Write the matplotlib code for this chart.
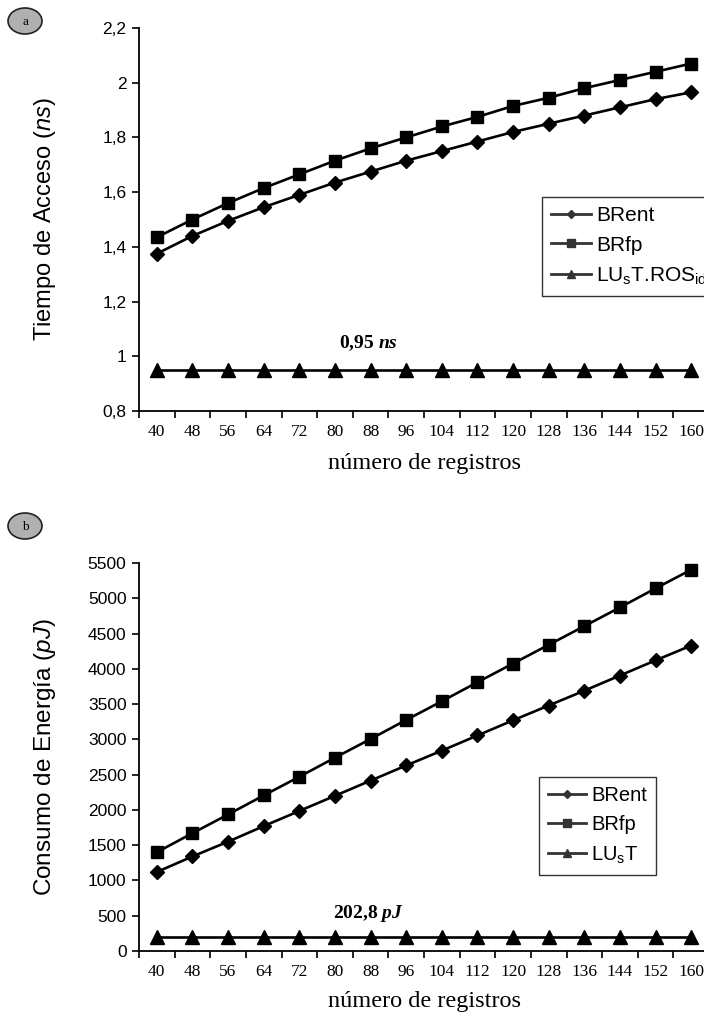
import matplotlib
matplotlib.use("Agg")
import matplotlib.pyplot as plt
from matplotlib.patches import Ellipse
from matplotlib.lines import Line2D
from matplotlib.ticker import FixedLocator

# data
registros = [40, 48, 56, 64, 72, 80, 88, 96, 104, 112, 120, 128, 136, 144, 152, 160]

# (a) access time, ns
t_brent = [1.375, 1.44, 1.495, 1.545, 1.59, 1.635, 1.675, 1.715, 1.75, 1.785, 1.82, 1.85, 1.88, 1.91, 1.94, 1.965]
t_brfp = [1.435, 1.50, 1.56, 1.615, 1.665, 1.715, 1.76, 1.80, 1.84, 1.875, 1.915, 1.945, 1.98, 2.01, 2.04, 2.07]
t_lust = [0.95] * 16

# (b) energy, pJ
e_brent = [1120, 1340, 1550, 1770, 1985, 2200, 2415, 2630, 2840, 3055, 3270, 3480, 3690, 3905, 4120, 4330]
e_brfp = [1400, 1670, 1935, 2205, 2470, 2740, 3005, 3275, 3540, 3810, 4075, 4340, 4605, 4870, 5140, 5405]
e_lust = [202.8] * 16

t_ticks = [0.8, 1.0, 1.2, 1.4, 1.6, 1.8, 2.0, 2.2]
t_ticklabels = ["0,8", "1", "1,2", "1,4", "1,6", "1,8", "2", "2,2"]
e_ticks = list(range(0, 5501, 500))

sans = "Liberation Sans"
serif = "Liberation Serif"

plt.rcParams["mathtext.fontset"] = "custom"
plt.rcParams["mathtext.rm"] = sans
plt.rcParams["mathtext.it"] = sans + ":italic"
plt.rcParams["mathtext.bfit"] = serif + ":italic:bold"

fig = plt.figure(figsize=(7.04, 10.14), dpi=100)
W, H = 704, 1014

def px_axes(left, top, right, bottom):
    return fig.add_axes([left / W, 1 - bottom / H, (right - left) / W, (bottom - top) / H])

def style_axes(ax, ylabel, ylsize, xpad):
    x = list(range(len(registros)))
    ax.set_xlim(-0.5, len(registros) - 0.5)
    ax.spines["top"].set_visible(False)
    ax.spines["right"].set_visible(False)
    ax.spines["left"].set_linewidth(1.3)
    ax.spines["bottom"].set_linewidth(1.3)
    ax.set_xticks(x)
    ax.set_xticklabels([str(r) for r in registros], fontfamily=serif, fontsize=12.5)
    ax.tick_params(axis="x", which="major", length=0, pad=9)
    ax.xaxis.set_minor_locator(FixedLocator([i + 0.5 for i in range(-1, len(registros))]))
    ax.tick_params(axis="x", which="minor", length=5, width=1.2, direction="out")
    ax.tick_params(axis="y", length=5, width=1.2, direction="out", labelsize=12.5, pad=4)
    for lab in ax.get_yticklabels():
        lab.set_fontfamily(sans)
    ax.set_xlabel("número de registros", fontfamily=serif, fontsize=17.5, labelpad=xpad)
    ax.set_ylabel(ylabel, fontfamily=sans, fontsize=ylsize)
    ax.yaxis.set_label_coords(-0.142, 0.5)

def draw_series(ax, a, b, c):
    x = list(range(len(registros)))
    ax.plot(x, a, color="black", lw=1.9, marker="D", ms=7, clip_on=False)
    ax.plot(x, b, color="black", lw=1.9, marker="s", ms=9, clip_on=False)
    ax.plot(x, c, color="black", lw=1.9, marker="^", ms=9.5, clip_on=False)

def add_legend(last_label, anchor, size):
    col = "#333333"
    handles = [
        Line2D([], [], color=col, lw=2, marker="D", ms=4),
        Line2D([], [], color=col, lw=2, marker="s", ms=5.5),
        Line2D([], [], color=col, lw=2, marker="^", ms=6),
    ]
    leg = fig.legend(handles, ["BRent", "BRfp", last_label], loc="upper left",
                     bbox_to_anchor=anchor, bbox_transform=fig.transFigure,
                     prop={"family": sans, "size": size}, frameon=True, fancybox=False,
                     edgecolor="black", handlelength=1.9, handletextpad=0.25,
                     borderpad=0.45, labelspacing=0.5, borderaxespad=0)
    leg.get_frame().set_linewidth(1.0)

def add_badge(x, y, letter):
    e = Ellipse((x / W, 1 - y / H), 34 / W, 26 / H, transform=fig.transFigure,
                facecolor="#b0b0b0", edgecolor="#222222", lw=1.2)
    fig.add_artist(e)
    fig.text(x / W, 1 - (y + 1) / H, letter, ha="center", va="center",
             fontfamily=serif, fontsize=9.5)

# panel (a)
ax1 = px_axes(139, 28, 709, 411)
draw_series(ax1, t_brent, t_brfp, t_lust)
ax1.set_ylim(0.8, 2.2)
ax1.set_yticks(t_ticks)
ax1.set_yticklabels(t_ticklabels)
style_axes(ax1, "Tiempo de Acceso ($\\mathit{ns}$)", 17, 10)
ax1.text(5.93, 1.049, "0,95 $\\mathbfit{ns}$", ha="center", va="center",
         fontfamily=serif, fontsize=14, fontweight="bold")
add_legend("LU$_\\mathregular{s}$T.ROS$_\\mathregular{id}$", (542 / W, 1 - 197 / H), 15)
add_badge(25, 21, "a")

# panel (b)
ax2 = px_axes(139, 563, 709, 951)
draw_series(ax2, e_brent, e_brfp, e_lust)
ax2.set_ylim(0, 5500)
ax2.set_yticks(e_ticks)
ax2.set_yticklabels([str(v) for v in e_ticks])
style_axes(ax2, "Consumo de Energía ($\\mathit{pJ}$)", 17.5, 8)
ax2.text(5.93, 538, "202,8 $\\mathbfit{pJ}$", ha="center", va="center",
         fontfamily=serif, fontsize=14, fontweight="bold")
add_legend("LU$_\\mathregular{s}$T", (539 / W, 1 - 777 / H), 14.5)
add_badge(25, 526, "b")

fig.savefig("out.png", dpi=100)
